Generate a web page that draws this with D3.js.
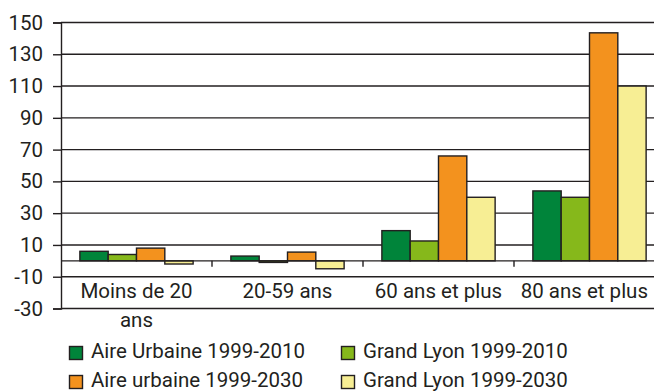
<!DOCTYPE html>
<html>
<head>
<meta charset="utf-8">
<script src="https://cdn.jsdelivr.net/npm/d3@7"></script>
<style>
  html, body { margin: 0; padding: 0; background: #fff; }
  svg { display: block; font-family: Roboto, "DejaVu Sans", sans-serif; }
</style>
</head>
<body>
<svg id="chart" width="654" height="391"></svg>
<script>
// Population change by age group (%)
const categories = ["Moins de 20 ans", "20-59 ans", "60 ans et plus", "80 ans et plus"];
const seriesNames = ["Aire Urbaine 1999-2010", "Grand Lyon 1999-2010", "Aire urbaine 1999-2030", "Grand Lyon 1999-2030"];
const aireUrbaine2010 = [6, 3, 19, 44];
const grandLyon2010 = [4, -1, 12.5, 40];
const aireUrbaine2030 = [8, 5.5, 66, 143.5];
const grandLyon2030 = [-2, -5, 40, 110];
const yTicks = [-30, -10, 10, 30, 50, 70, 90, 110, 130, 150];
const colors = ["#00843a", "#86b81b", "#f3921e", "#f7ee94"];

const series = [aireUrbaine2010, grandLyon2010, aireUrbaine2030, grandLyon2030];

const svg = d3.select("#chart");
const W = 654;
const ink = "#231f20";
const fontSize = 20.5;

const plotLeft = 61, plotTop = 22.5, plotBottom = 308.5;

const y = d3.scaleLinear().domain([-30, 150]).range([plotBottom, plotTop]);
const x0 = d3.scaleBand().domain(categories).range([plotLeft, plotLeft + 604])
  .paddingInner(0.25).paddingOuter(0.125);
const x1 = d3.scaleBand().domain(d3.range(series.length)).range([0, x0.bandwidth()]);

// horizontal grid lines
svg.append("g").selectAll("line").data(yTicks).join("line")
  .attr("x1", plotLeft).attr("x2", W)
  .attr("y1", d => y(d)).attr("y2", d => y(d))
  .attr("stroke", ink).attr("stroke-width", 1.4);

// y axis
const yAxis = d3.axisLeft(y).tickValues(yTicks).tickSize(8).tickPadding(10)
  .tickFormat(d => String(d));
const gy = svg.append("g").attr("transform", `translate(${plotLeft},0)`).call(yAxis);
gy.select(".domain").attr("stroke", ink).attr("stroke-width", 1.4);
gy.selectAll(".tick line").attr("stroke", ink).attr("stroke-width", 1.4);
gy.selectAll(".tick text").attr("fill", ink).style("font-size", fontSize + "px")
  .style("font-family", "Roboto, 'DejaVu Sans', sans-serif");

// bars
const groups = svg.append("g").selectAll("g").data(categories).join("g")
  .attr("transform", d => `translate(${x0(d)},0)`);
groups.selectAll("rect")
  .data((c, ci) => series.map((s, si) => ({ si, v: s[ci] })))
  .join("rect")
  .attr("x", d => x1(d.si))
  .attr("width", x1.bandwidth())
  .attr("y", d => y(Math.max(0, d.v)))
  .attr("height", d => Math.abs(y(d.v) - y(0)))
  .attr("fill", d => colors[d.si])
  .attr("stroke", ink).attr("stroke-width", 1.4);

// zero baseline with category separators
svg.append("line").attr("x1", plotLeft).attr("x2", W)
  .attr("y1", y(0)).attr("y2", y(0))
  .attr("stroke", ink).attr("stroke-width", 1.4);
const step = x0.step();
svg.append("g").selectAll("line").data(categories.slice(1)).join("line")
  .attr("x1", (d, i) => plotLeft + (i + 1) * step).attr("x2", (d, i) => plotLeft + (i + 1) * step)
  .attr("y1", y(0)).attr("y2", y(0) + 6)
  .attr("stroke", ink).attr("stroke-width", 1.4);

// category labels (wrapped when too wide for the band)
const catLabels = [["Moins de 20", "ans"], ["20-59 ans"], ["60 ans et plus"], ["80 ans et plus"]];
svg.append("g").selectAll("text").data(categories).join("text")
  .attr("y", 298)
  .attr("fill", ink)
  .style("font-size", fontSize + "px")
  .each(function (d, i) {
    const t = d3.select(this);
    const cx = plotLeft + (i + 0.5) * step;
    t.attr("x", cx).attr("text-anchor", "middle");
    catLabels[i].forEach((line, li) => {
      t.append("tspan").attr("x", cx).attr("dy", li === 0 ? 0 : 29).text(line);
    });
    const bb = this.getBBox();
    if (bb.x + bb.width > W - 6) {
      const shift = bb.x + bb.width - (W - 6);
      t.selectAll("tspan").attr("x", cx - shift);
    }
  });

// legend
const legendPos = [[69, 357.5], [341, 357.5], [69, 386.5], [341, 386.5]];
const lg = svg.append("g").selectAll("g").data(seriesNames).join("g")
  .attr("transform", (d, i) => `translate(${legendPos[i][0]},${legendPos[i][1]})`);
lg.append("rect").attr("x", 0.5).attr("y", -11).attr("width", 13).attr("height", 13)
  .attr("fill", (d, i) => colors[i]).attr("stroke", ink).attr("stroke-width", 1.4);
lg.append("text").attr("x", 22).attr("y", 0).attr("fill", ink)
  .style("font-size", fontSize + "px").text(d => d);
</script>
</body>
</html>
